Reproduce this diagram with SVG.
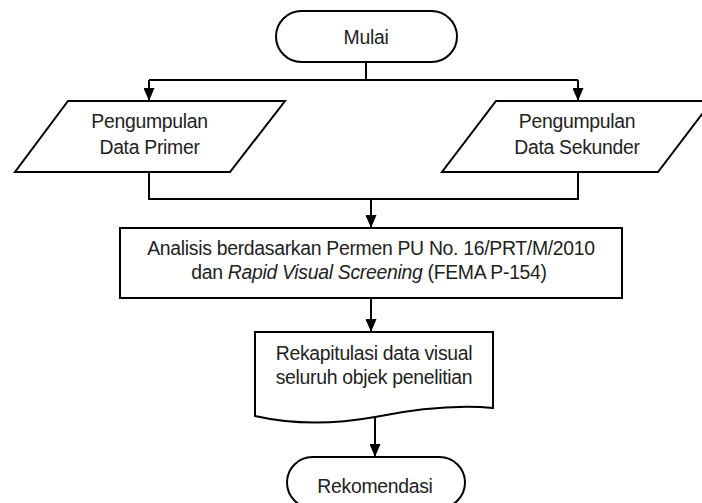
<svg xmlns="http://www.w3.org/2000/svg" width="702" height="503" viewBox="0 0 702 503">
<style>
.shape{fill:#fff;stroke:#000;stroke-width:2}
.line{fill:none;stroke:#000;stroke-width:2}
text{font-family:"Liberation Sans",Arial,sans-serif;font-size:19.4px;letter-spacing:-0.3px;fill:#222;text-anchor:middle}
</style>
<defs>
<marker id="arr" viewBox="0 0 13 11" refX="13" refY="5.5" markerWidth="13" markerHeight="11" markerUnits="userSpaceOnUse" orient="auto">
<path d="M0,0 L13,5.5 L0,11 Z" fill="#000"/>
</marker>
</defs>
<rect width="702" height="503" fill="#fff"/>
<g id="connectors">
<path class="line" d="M366,62 V80"/>
<path class="line" d="M149,80 H578"/>
<path class="line" d="M149,80 V101" marker-end="url(#arr)"/>
<path class="line" d="M578,80 V101" marker-end="url(#arr)"/>
<path class="line" d="M149,172 V199 H578 V172"/>
<path class="line" d="M371,199 V228" marker-end="url(#arr)"/>
<path class="line" d="M371,298 V332" marker-end="url(#arr)"/>
<path class="line" d="M375,418 V457" marker-end="url(#arr)"/>
</g>
<g id="mulai">
<rect class="shape" x="276" y="11" width="181" height="51" rx="25.5"/>
<text x="366" y="44">Mulai</text>
</g>
<g id="primer">
<polygon class="shape" points="68,101 285,101 230,172 15,172"/>
<text x="149.5" y="128">Pengumpulan</text>
<text x="149.5" y="154">Data Primer</text>
</g>
<g id="sekunder">
<polygon class="shape" points="496,101 712,101 658,172 442,172"/>
<text x="577" y="128">Pengumpulan</text>
<text x="577" y="154">Data Sekunder</text>
</g>
<g id="analisis">
<rect class="shape" x="120" y="228" width="502" height="70"/>
<text x="371" y="255">Analisis berdasarkan Permen PU No. 16/PRT/M/2010</text>
<text x="369" y="279">dan <tspan font-style="italic">Rapid Visual Screening</tspan> (FEMA P-154)</text>
</g>
<g id="rekapitulasi">
<path class="shape" d="M255,332 H493 V408 C450,404 410,410 375,417 C330,425 290,424 255,416 Z"/>
<text x="374" y="360">Rekapitulasi data visual</text>
<text x="374" y="384">seluruh objek penelitian</text>
</g>
<g id="rekomendasi">
<rect class="shape" x="287" y="457" width="178" height="51" rx="25.5"/>
<text x="375" y="493">Rekomendasi</text>
</g>
</svg>
